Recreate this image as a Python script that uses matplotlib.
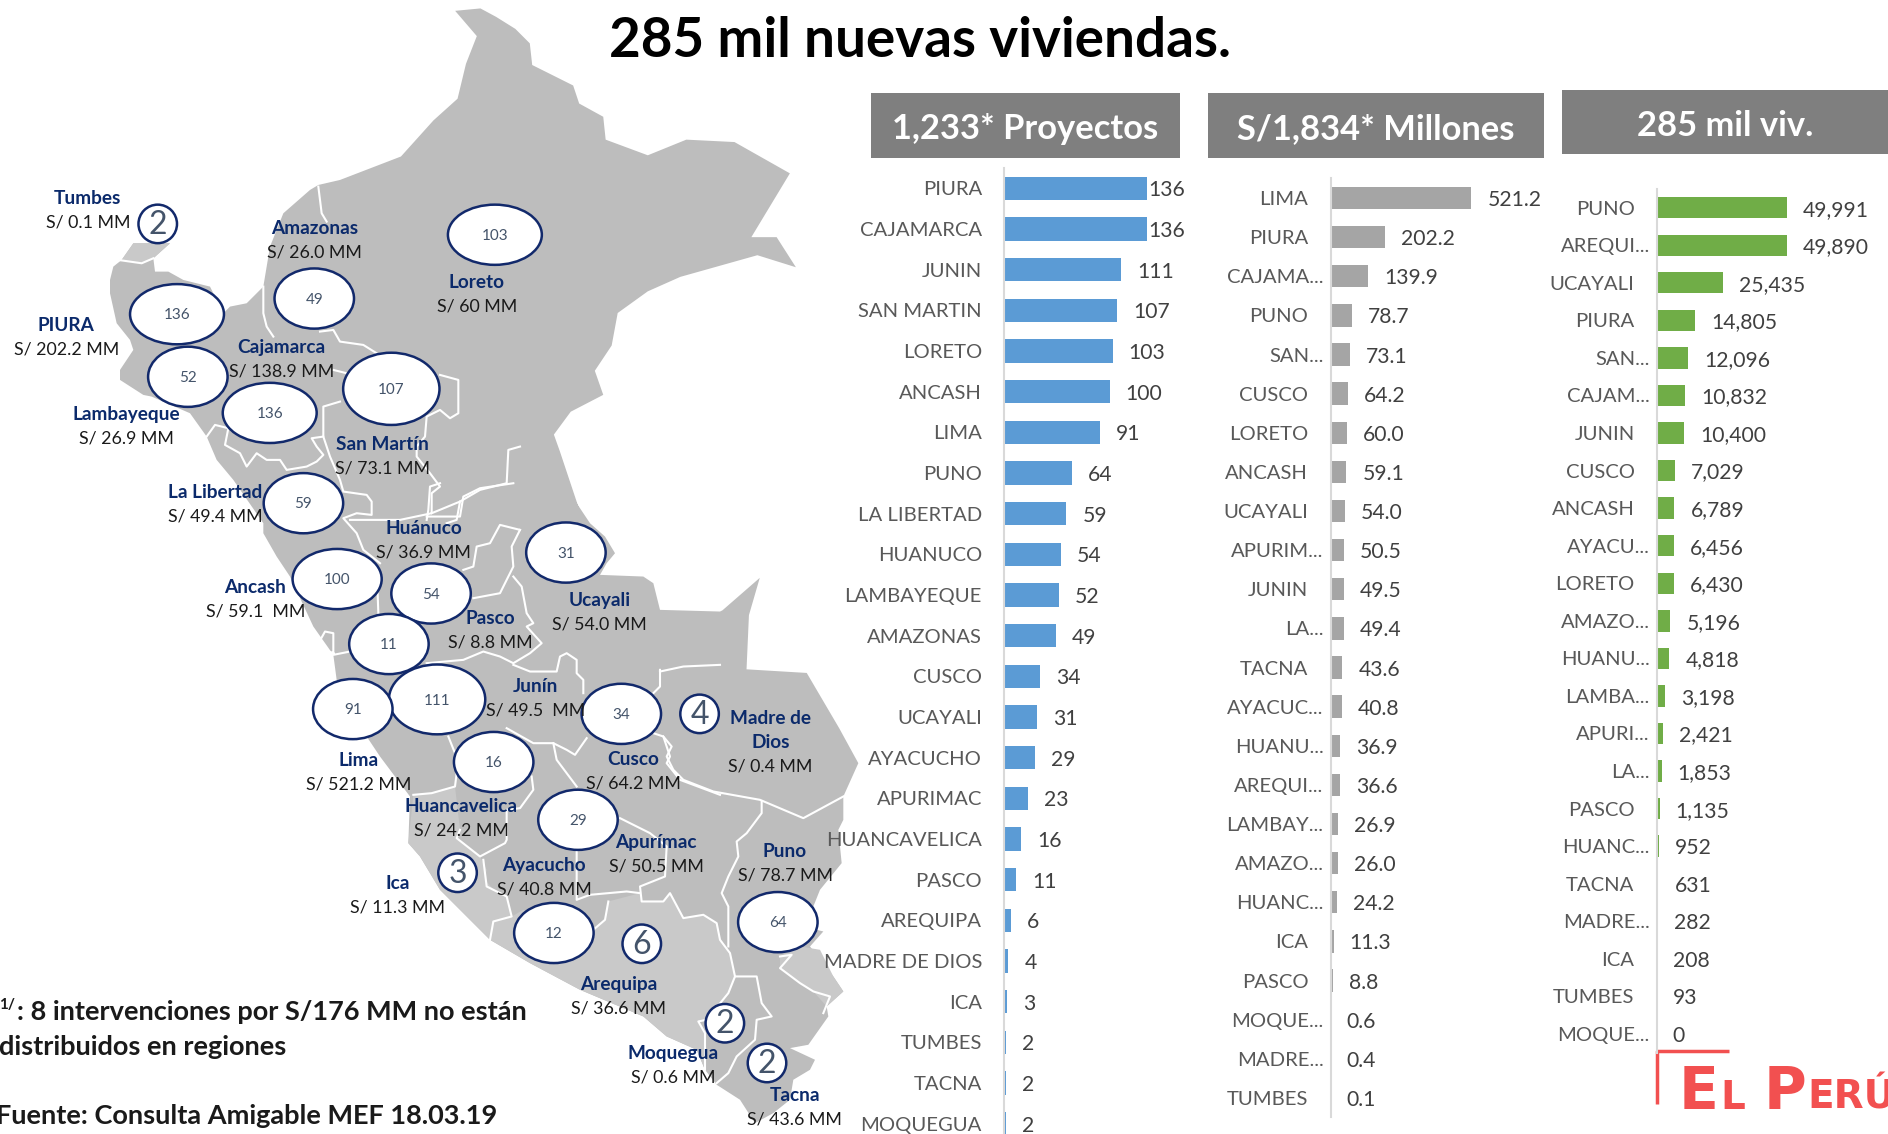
import matplotlib
matplotlib.use("Agg")
import matplotlib.pyplot as plt
from matplotlib.patches import Ellipse, Polygon, Rectangle

plt.rcParams["font.family"] = ["Lato", "DejaVu Sans"]

"""Chart data"""
proy_names = ["PIURA","CAJAMARCA","JUNIN","SAN MARTIN","LORETO","ANCASH","LIMA","PUNO","LA LIBERTAD","HUANUCO",
              "LAMBAYEQUE","AMAZONAS","CUSCO","UCAYALI","AYACUCHO","APURIMAC","HUANCAVELICA","PASCO","AREQUIPA",
              "MADRE DE DIOS","ICA","TUMBES","TACNA","MOQUEGUA"]
proy_values = [136,136,111,107,103,100,91,64,59,54,52,49,34,31,29,23,16,11,6,4,3,2,2,2]

mill_names = ["LIMA","PIURA","CAJAMA...","PUNO","SAN...","CUSCO","LORETO","ANCASH","UCAYALI","APURIM...","JUNIN",
              "LA...","TACNA","AYACUC...","HUANU...","AREQUI...","LAMBAY...","AMAZO...","HUANC...","ICA","PASCO",
              "MOQUE...","MADRE...","TUMBES"]
mill_values = [521.2,202.2,139.9,78.7,73.1,64.2,60.0,59.1,54.0,50.5,49.5,49.4,43.6,40.8,36.9,36.6,26.9,26.0,24.2,
               11.3,8.8,0.6,0.4,0.1]

viv_names = ["PUNO","AREQUI...","UCAYALI","PIURA","SAN...","CAJAM...","JUNIN","CUSCO","ANCASH","AYACU...","LORETO",
             "AMAZO...","HUANU...","LAMBA...","APURI...","LA...","PASCO","HUANC...","TACNA","MADRE...","ICA",
             "TUMBES","MOQUE..."]
viv_values = [49991,49890,25435,14805,12096,10832,10400,7029,6789,6456,6430,5196,4818,3198,2421,1853,1135,952,631,
              282,208,93,0]

"""Map data, traced from three crops of the picture"""
crop_a = (100,180)
crop_b = (300,480)
crop_c = (480,720)

north_east = [(378,9),(399,7),(412,14),(428,24),(440,36),(442,54),(476,71),(481,86),(501,97),(503,116),(538,129),
              (570,116),(610,118),(656,144),(624,197),(645,197),(661,222),(629,212),(565,230),(538,242),(513,260),
              (508,287),(494,308),(501,328),(474,342),(460,361),(465,375),(481,423)]
ucayali_east = [(795,0),(830,70),(870,130),(915,170),(945,220),(920,250),(900,285),(1030,290),(1060,310),(1080,390),
                (1260,395)]
madre_east = [(600,507),(631,480),(622,511),(620,556),(670,559),(697,605)]
south_coast = [(1135,130),(1090,230),(1090,300),(1075,330),(1085,430),(1020,510),(1000,560),(1010,630),(1030,635),
               (990,680),(1060,770),(1090,815),(1040,860),(1045,890),(985,975),(930,985),(1005,1020),(990,1050),
               (940,1080),(930,1140),(880,1180),(825,1210),(780,1140),(710,1095),(675,1050),(650,990),(560,950),
               (490,890),(300,810),(150,730),(30,660)]
middle_coast = [(420,1230),(360,1130),(325,1090),(330,950),(240,830),(200,770),(110,600),(100,525),(40,440)]
north_coast = [(570,1190),(530,1130),(490,1060),(490,1030),(400,900),(350,840),(320,770),(270,700),(155,650),
               (130,645),(60,600),(60,570),(100,510),(90,480),(50,430),(30,340),(30,300),(40,260),(65,240),(100,190),
               (210,190),(160,235),(165,275),(205,275),(250,300),(330,320),(370,400),(390,380),(440,370),(490,320),
               (500,260),(510,200),(550,100),(630,30),(655,15),(720,0)]
north_tail = [(333,130),(360,100),(380,82),(387,53),(396,30)]

arequipa_shape = [(30,660),(40,605),(95,590),(130,570),(340,630),(375,600),(385,545),(480,520),(485,545),(550,545),
                  (570,520),(610,595),(670,585),(710,610),(720,660),(750,700),(765,770),(745,820),(680,900),(655,905),
                  (675,940),(675,1050),(650,990),(560,950),(490,890),(300,810),(150,730)]
tumbes_shape = [(100,190),(210,190),(160,235),(125,250),(55,240),(65,240)]
ica_shape = [(340,945),(395,940),(465,920),(480,1050),(470,1075),(540,1130),(560,1170),(555,1200),(590,1240),
             (620,1250),(635,1310),(580,1326),(570,1380),(420,1230),(360,1130),(325,1090)]
lake_shape = [(960,680),(1020,690),(1060,770),(1090,815),(1040,860),(1000,815),(960,790),(900,745),(900,710)]

borders_a = [
    [(655,20),(660,60),(665,100),(680,125)],
    [(660,455),(700,450),(720,485),(790,495),(830,520)],
    [(1020,585),(1075,600),(1075,700),(1050,715),(1020,690),(980,710),(975,770),(950,800),(950,830),(990,880),
     (1020,920),(995,940),(995,1000),(900,1020),(750,1020)],
    [(490,320),(490,400),(500,440),(520,470)],
    [(700,570),(740,580)],
    [(720,665),(670,680),(670,770),(635,775),(650,800),(670,825),(650,845),(620,860),(560,870),(540,840),(500,840),
     (470,820),(440,860),(420,820),(375,795),(385,745),(345,735),(320,770)],
    [(670,770),(690,830),(720,900),(730,935),(800,945),(815,965),(815,1005),(770,1000),(730,1015),(770,1060),
     (790,1110),(840,1150)],
    [(55,240),(125,250),(160,235)],
    [(995,1000),(1080,965),(1140,930),(1220,910),(1225,810),(1260,800)],
    [(1080,965),(1070,1020),(1040,1030)],
]
borders_b = [
    [(420,10),(390,20),(385,90),(380,120)],
    [(640,10),(540,25),(490,50),(480,110),(380,110)],
    [(660,150),(600,135),(570,190),(530,200),(520,260),(490,270)],
    [(660,150),(635,200),(640,260),(620,300),(600,340),(520,355)],
    [(640,290),(665,320),(680,400),(700,430),(680,440),(725,490),(690,520),(640,550),(600,530),(550,515),(490,540),
     (380,550)],
    [(640,555),(690,575),(770,575),(780,530),(800,520),(830,540),(830,580),(850,600),(850,640)],
    [(230,260),(235,400)],
    [(100,520),(50,500),(75,455),(100,460),(100,525),(150,515)],
    [(445,770),(465,820),(470,880),(465,920),(395,940),(340,945)],
    [(695,890),(700,930),(660,985),(620,990),(620,1080),(615,1090),(540,1130),(470,1075),(480,1050)],
    [(620,745),(700,790),(760,790),(800,810),(825,825),(860,775)],
    [(760,790),(770,840),(830,920)],
    [(1080,570),(1080,620),(1060,640)],
    [(1080,575),(1150,560),(1260,555)],
    [(1060,760),(1090,770),(1110,830),(1100,850),(1140,900),(1260,945)],
]
borders_c = [
    [(550,50),(575,80),(560,110),(580,150),(610,180),(700,215),(840,240),(970,295),(1090,230)],
    [(845,245),(845,280),(800,340),(770,365),(775,410),(745,470),(725,520),(745,560),(745,680)],
    [(420,295),(510,340),(560,380),(555,470),(480,500),(485,545),(550,545),(570,520),(610,595),(670,585),(710,610),
     (720,660),(750,700),(765,770),(830,770),(845,850),(875,890),(830,900),(825,960),(770,1010),(745,1060),(710,1090)],
    [(765,770),(745,820),(680,900),(655,905),(675,940),(675,1050)],
    [(290,390),(290,540),(330,525),(440,515),(480,520)],
    [(385,545),(375,600),(340,630)],
    [(10,420),(20,500),(80,530),(95,590),(40,605),(30,660)],
    [(900,710),(935,705),(900,745),(960,790),(1000,815),(1050,830),(1030,880)],
]

bubble_values = [103,136,49,52,136,107,59,31,100,54,11,111,91,34,16,29,12,64]
bubble_pos = [(411,195),(147,261),(261,248),(156,313),(224,343),(325,323),(252,418),(470,459),(280,481),(358,493),
              (323,535),(363,581),(293,589),(516,593),(410,633),(480,681),(460,775),(646,766)]
bubble_size = [(78,50),(78,50),(66,50),(66,50),(78,50),(80,60),(66,50),(66,50),(74,50),(66,50),(66,50),(80,58),
               (66,50),(66,50),(66,50),(66,50),(66,50),(66,50)]
small_values = [2,4,3,6,2,2]
small_pos = [(131,186),(581,593),(380,725),(533,784),(602,850),(637,883)]

region_names = ["Tumbes","Amazonas","Loreto","PIURA","Cajamarca","Lambayeque","San Martín","La Libertad","Huánuco",
                "Ancash","Ucayali","Pasco","Junín","Lima","Cusco","Huancavelica","Apurímac","Puno","Ayacucho","Ica",
                "Arequipa","Moquegua","Tacna"]
region_amounts = ["S/ 0.1 MM","S/ 26.0 MM","S/ 60 MM","S/ 202.2 MM","S/ 138.9 MM","S/ 26.9 MM","S/ 73.1 MM",
                  "S/ 49.4 MM","S/ 36.9 MM","S/ 59.1  MM","S/ 54.0 MM","S/ 8.8 MM","S/ 49.5  MM","S/ 521.2 MM",
                  "S/ 64.2 MM","S/ 24.2 MM","S/ 50.5 MM","S/ 78.7 MM","S/ 40.8 MM","S/ 11.3 MM","S/ 36.6 MM",
                  "S/ 0.6 MM","S/ 43.6 MM"]
region_pos = [(73,164),(261,189),(396,234),(55,269),(234,288),(105,343),(318,368),(179,408),(352,438),(212,487),
              (498,498),(407,513),(445,569),(298,631),(526,630),(383,669),(545,699),(652,706),(452,718),(330,733),
              (514,817),(559,874),(660,909)]

W, H = 1568.0, 942.0
fig = plt.figure(figsize=(18.88,11.34), dpi=100)

#whole figure layer for the map and the loose texts
base = fig.add_axes([0,0,1,1])
base.set_xlim(0,W)
base.set_ylim(H,0)
base.axis("off")

def crop(origin, pts):
    #crop pixels (3x) to the 1568 wide view
    return [((origin[0]+x/3)*W/1888, (origin[1]+y/3)*W/1888) for x,y in pts]

peru_outline = (north_east + crop(crop_b, ucayali_east) + madre_east + crop(crop_c, south_coast)
                + crop(crop_b, middle_coast) + crop(crop_a, north_coast) + north_tail)
base.add_patch(Polygon(peru_outline, closed=True, fc="#BDBDBD", ec="none", zorder=1))
light = "#C9C9C9"
base.add_patch(Polygon(crop(crop_c, arequipa_shape), closed=True, fc=light, ec="none", zorder=1.1))
base.add_patch(Polygon(crop(crop_a, tumbes_shape), closed=True, fc=light, ec="none", zorder=1.1))
base.add_patch(Polygon(crop(crop_b, ica_shape), closed=True, fc=light, ec="none", zorder=1.1))
base.add_patch(Polygon(crop(crop_c, lake_shape), closed=True, fc=light, ec="none", zorder=1.1))

for origin,lines in [(crop_a,borders_a),(crop_b,borders_b),(crop_c,borders_c)]:
    for line in lines:
        pts = crop(origin, line)
        base.plot([p[0] for p in pts], [p[1] for p in pts], color="white", lw=1.5, zorder=2)

for v,(x,y),(w,h) in zip(bubble_values, bubble_pos, bubble_size):
    base.add_patch(Ellipse((x,y), w, h, fc="white", ec="#12296B", lw=1.8, zorder=3))
    base.text(x, y+1, str(v), ha="center", va="center", fontsize=11, color="#44546A", zorder=4)
for v,(x,y) in zip(small_values, small_pos):
    base.add_patch(Ellipse((x,y), 32, 32, fc="white", ec="#12296B", lw=1.8, zorder=3))
    base.text(x, y+1, str(v), ha="center", va="center", fontsize=23, color="#44546A", zorder=4)

for name,amount,(x,y) in zip(region_names, region_amounts, region_pos):
    base.text(x, y+1, name, ha="center", va="center", fontsize=13.7, fontweight="bold", color="#0B2A6B", zorder=5)
    base.text(x, y+21, amount, ha="center", va="center", fontsize=12.8, color="#1A1A1A", zorder=5)
base.text(640, 597, "Madre de", ha="center", va="center", fontsize=13.7, fontweight="bold", color="#0B2A6B", zorder=5)
base.text(640, 617, "Dios", ha="center", va="center", fontsize=13.7, fontweight="bold", color="#0B2A6B", zorder=5)
base.text(640, 637, "S/ 0.4 MM", ha="center", va="center", fontsize=12.8, color="#1A1A1A", zorder=5)

base.text(764, 34, "285 mil nuevas viviendas.", ha="center", va="center", fontsize=39.4, fontweight="bold", color="black")

for x0,x1,y0,y1,txt in [(723,980,77,131,"1,233* Proyectos"),(1003,1282,77,131,"S/1,834* Millones"),
                        (1297,1568,75,128,"285 mil viv.")]:
    base.add_patch(Rectangle((x0,y0), x1-x0, y1-y0, fc="#7F7F7F", ec="none"))
    base.text((x0+x1)/2, (y0+y1)/2+3, txt, ha="center", va="center", fontsize=24.8, fontweight="bold", color="white")

base.text(-1, 835, "1/", ha="left", va="center", fontsize=11, fontweight="bold", color="#1A1A1A")
base.text(14, 841, ": 8 intervenciones por S/176 MM no están", ha="left", va="center", fontsize=19.5, fontweight="bold", color="#1A1A1A")
base.text(-1, 870, "distribuidos en regiones", ha="left", va="center", fontsize=19.5, fontweight="bold", color="#1A1A1A")
base.text(-3, 927, "Fuente: Consulta Amigable MEF 18.03.19", ha="left", va="center", fontsize=19.5, fontweight="bold", color="#1A1A1A")

#logo in the corner, cut by the edge of the picture
red = "#F25050"
base.plot([1376,1376,1436], [917,873,873], color=red, lw=2.5, solid_capstyle="butt")
for x,txt,size in [(1394,"E",42),(1429,"L",28),(1465,"P",42),(1501,"ERÚ",28)]:
    base.text(x, 921, txt, ha="left", va="baseline", fontsize=size, fontweight="bold",
              color=red, family="DejaVu Sans", clip_on=True)


def bar_panel(names, values, color, x_axis, x_per_unit, y_first, y_step, label_fmt):
    n = len(values)
    top = y_first - y_step/2
    bottom = y_first + (n-0.5)*y_step
    right = W
    ax = fig.add_axes([x_axis/W, 1-bottom/H, (right-x_axis)/W, (bottom-top)/H])
    ax.patch.set_alpha(0)
    ax.barh(range(n), values, height=0.57, color=color)
    ax.set_xlim(0, (right-x_axis)/x_per_unit)
    ax.set_ylim(n-0.5, -0.5)
    ax.set_yticks(range(n))
    ax.set_yticklabels(names, fontsize=14.6, color="#595959")
    ax.xaxis.set_visible(False)
    for s in ["top","right","bottom"]:
        ax.spines[s].set_visible(False)
    ax.spines["left"].set_color("#D9D9D9")
    ax.spines["left"].set_linewidth(1.5)
    ax.tick_params(axis="y", length=0, pad=16)
    for tick,name in zip(ax.yaxis.get_major_ticks(), names):
        if name.endswith("..."):
            tick.set_pad(5)
    for i,v in enumerate(values):
        off = 16
        if v == 136:
            off = 1
        ax.annotate(label_fmt.format(v), (v,i), xytext=(off,-2), textcoords="offset pixels",
                    ha="left", va="center", fontsize=15.2, color="#404040", annotation_clip=False)
    return ax


bar_panel(proy_names, proy_values, "#5B9BD5", 834, 119/136, 156.5, 33.78, "{:d}")
bar_panel(mill_names, mill_values, "#A5A5A5", 1105, 117/521.2, 164.5, 32.5, "{:.1f}")
bar_panel(viv_names, viv_values, "#70AD47", 1376, 108/49991, 172.5, 31.2, "{:,d}")

fig.savefig("out.png", dpi=100)
